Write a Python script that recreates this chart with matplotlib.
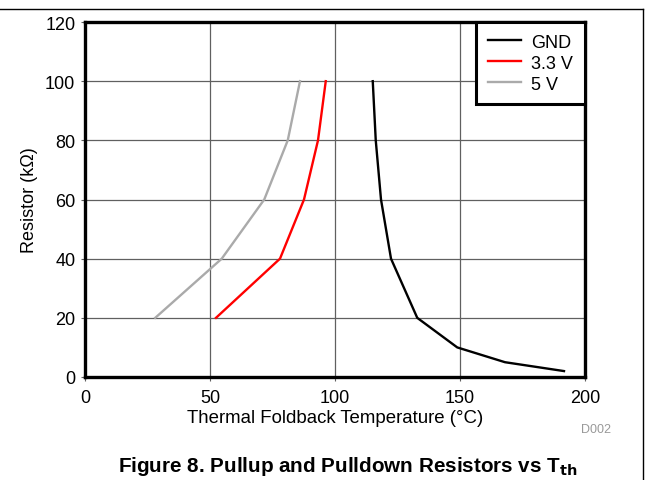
import matplotlib
matplotlib.use("Agg")
import matplotlib.pyplot as plt
from matplotlib.lines import Line2D

plt.rcParams['font.family'] = ['Liberation Sans', 'DejaVu Sans']

# Data
gnd_temp = [115.1, 116.3, 118.4, 122.4, 132.9, 148.9, 168.0, 191.6]
gnd_res = [100, 80, 60, 40, 20, 10, 5, 2]
v33_temp = [52.4, 78.0, 87.6, 93.2, 96.3]
v33_res = [20, 40, 60, 80, 100]
v5_temp = [28.1, 54.7, 71.7, 81.1, 86.0]
v5_res = [20, 40, 60, 80, 100]
x_ticks = [0, 50, 100, 150, 200]
y_ticks = [0, 20, 40, 60, 80, 100, 120]

W, H = 649, 481
fig = plt.figure(figsize=(W / 100, H / 100), dpi=100)
ax = fig.add_axes([85 / W, (H - 378) / H, 500 / W, 355 / H])

ax.plot(gnd_temp, gnd_res, color='black', lw=1.7, label='GND')
ax.plot(v33_temp, v33_res, color='#ff0000', lw=1.7, label='3.3 V')
ax.plot(v5_temp, v5_res, color='#aaaaaa', lw=1.7, label='5 V')

ax.set_xlim(0, 200)
ax.set_ylim(0, 120)
ax.set_xticks(x_ticks)
ax.set_yticks(y_ticks)
ax.grid(True, color='#606060', lw=0.9)
ax.set_axisbelow(True)
for s in ax.spines.values():
    s.set_linewidth(2.4)
    s.set_color('black')
ax.tick_params(axis='both', labelsize=13, length=3, width=0.8, color='#606060')
ax.tick_params(axis='x', pad=6)
ax.tick_params(axis='y', pad=4)
ax.set_xlabel('Thermal Foldback Temperature (\u00b0C)', fontsize=13.4, labelpad=2)
ax.set_ylabel('Resistor (k\u03a9)', fontsize=13, labelpad=5)

leg = ax.legend(loc='upper right', fontsize=13, frameon=True, fancybox=False,
                borderaxespad=0, handlelength=1.85, handletextpad=0.55,
                labelspacing=0.22, borderpad=0.65)
leg.get_frame().set_edgecolor('black')
leg.get_frame().set_linewidth(2.2)
leg.get_frame().set_alpha(1)

fig.text(596 / W, 1 - 430 / H, 'D002', fontsize=9, color='#999999', ha='center', va='center')
fig.text(348 / W, 1 - 466 / H, r'Figure 8. Pullup and Pulldown Resistors vs T$_{\mathbf{th}}$',
         fontsize=14.9, fontweight='bold', ha='center', va='center')

# figure border lines (top and right)
fig.add_artist(Line2D([0, 643 / W], [1 - 10 / H, 1 - 10 / H], color='black', lw=1, transform=fig.transFigure))
fig.add_artist(Line2D([643 / W, 643 / W], [1 - 10 / H, 0], color='black', lw=1, transform=fig.transFigure))

fig.savefig('out.png', dpi=100)
